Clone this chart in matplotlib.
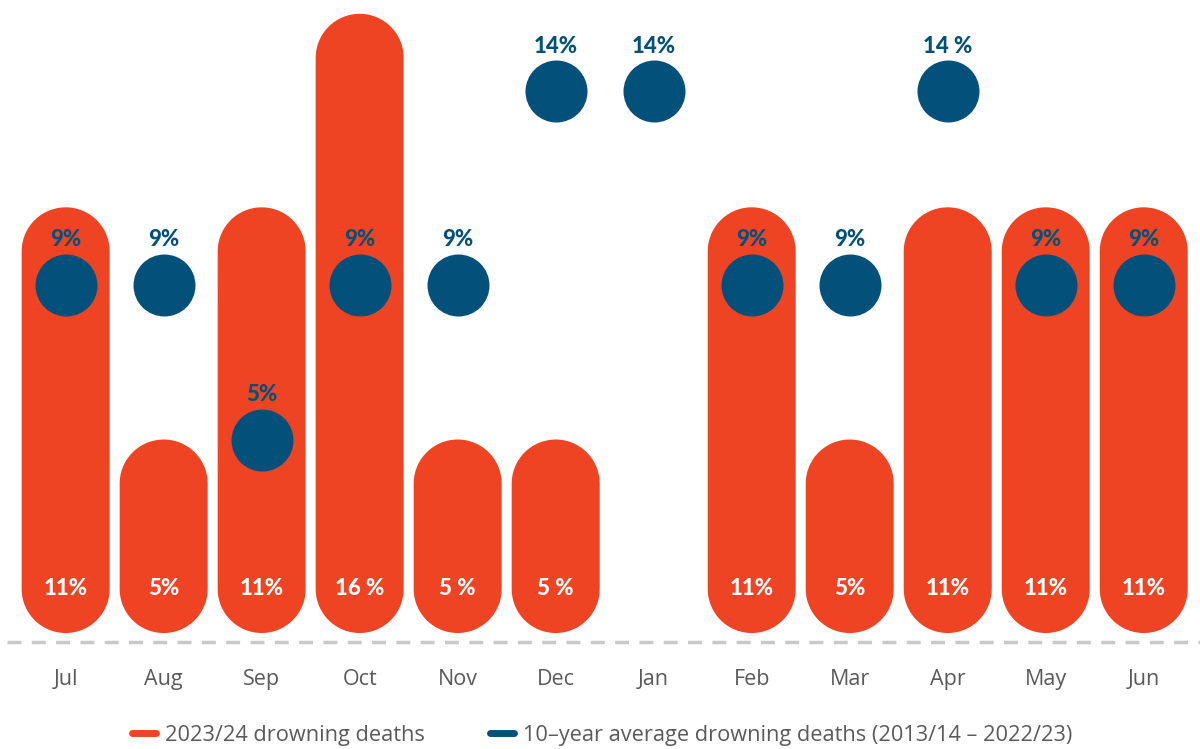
import numpy as np
import matplotlib.pyplot as plt
from matplotlib.patches import Polygon
from matplotlib.lines import Line2D

months = ['Jul', 'Aug', 'Sep', 'Oct', 'Nov', 'Dec', 'Jan', 'Feb', 'Mar', 'Apr', 'May', 'Jun']
deaths_2324 = [11, 5, 11, 16, 5, 5, 0, 11, 5, 11, 11, 11]
deaths_2324_labels = ['11%', '5%', '11%', '16 %', '5 %', '5 %', '', '11%', '5%', '11%', '11%', '11%']
avg_10yr = [9, 9, 5, 9, 9, 14, 14, 9, 9, 14, 9, 9]
avg_10yr_labels = ['9%', '9%', '5%', '9%', '9%', '14%', '14%', '9%', '9%', '14 %', '9%', '9%']

RED = '#EE4423'
BLUE = '#03517A'
GREY = '#5a5a5a'

W, H, DPI = 1200, 749, 100
fig = plt.figure(figsize=(W / DPI, H / DPI), dpi=DPI)
ax = fig.add_axes([0, 0, 1, 1])
ax.set_xlim(-0.67, 11.574)
ax.set_ylim(-2.997, 16.357)
ax.axis('off')

# data units -> pixels, used to keep the rounded ends circular
px_x = W / (11.574 + 0.67)
px_y = H / (16.357 + 2.997)

bar_w = 0.898
rx = bar_w / 2
ry = rx * px_x / px_y
t = np.linspace(0, np.pi, 60)

lbl_font = dict(fontsize=16, fontweight='black', family='Lato')

for i, v in enumerate(deaths_2324):
    if v <= 0:
        continue
    top = np.column_stack([i + rx * np.cos(t), v - ry + ry * np.sin(t)])
    bot = np.column_stack([i - rx * np.cos(t), ry - ry * np.sin(t)])
    ax.add_patch(Polygon(np.vstack([top, bot]), closed=True, fc=RED, ec='none', zorder=2))
    ax.text(i, 1.14, deaths_2324_labels[i], color='white', ha='center', va='center',
            zorder=4, **lbl_font)

x = np.arange(len(months))
dot_d = 62 * 72 / DPI
ax.scatter(x, avg_10yr, s=dot_d ** 2, color=BLUE, zorder=3, linewidths=0)
for i, v in enumerate(avg_10yr):
    ax.text(i, v + 1.16, avg_10yr_labels[i], color=BLUE, ha='center', va='center',
            zorder=4, **lbl_font)

ax.plot([-0.6, 11.574], [-0.23, -0.23], color='#c8c8c8', lw=2.5,
        dashes=(4, 3), zorder=1)

for i, m in enumerate(months):
    ax.text(i, -1.2, m, color=GREY, ha='center', va='center', fontsize=15.5, family='Open Sans')

handles = [Line2D([], [], color=RED, lw=5, solid_capstyle='round'),
           Line2D([], [], color=BLUE, lw=5, solid_capstyle='round')]
leg = fig.legend(handles, ['2023/24 drowning deaths',
                           '10\u2013year average drowning deaths (2013/14 \u2013 2022/23)'],
                 loc='center', bbox_to_anchor=(0.502, 0.018), ncol=2, frameon=False,
                 handlelength=1.1, handletextpad=0.4, columnspacing=3.0,
                 prop={'family': 'Open Sans', 'size': 15.7})
for txt in leg.get_texts():
    txt.set_color(GREY)

fig.savefig('out.png', dpi=DPI)
